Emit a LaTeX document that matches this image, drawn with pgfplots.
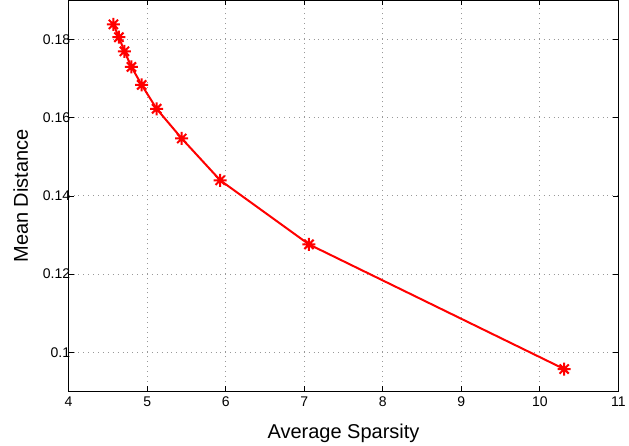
\documentclass[border=0pt]{standalone}
\usepackage{pgfplots}
\pgfplotsset{compat=1.18}
\usepackage{fontspec}
\setmainfont{Liberation Sans}
% MATLAB-style eight-armed asterisk
\pgfdeclareplotmark{mstar}{%
  \pgfpathmoveto{\pgfqpoint{-\pgfplotmarksize}{0pt}}\pgfpathlineto{\pgfqpoint{\pgfplotmarksize}{0pt}}%
  \pgfpathmoveto{\pgfqpoint{0pt}{-\pgfplotmarksize}}\pgfpathlineto{\pgfqpoint{0pt}{\pgfplotmarksize}}%
  \pgfpathmoveto{\pgfqpoint{-0.707\pgfplotmarksize}{-0.707\pgfplotmarksize}}\pgfpathlineto{\pgfqpoint{0.707\pgfplotmarksize}{0.707\pgfplotmarksize}}%
  \pgfpathmoveto{\pgfqpoint{-0.707\pgfplotmarksize}{0.707\pgfplotmarksize}}\pgfpathlineto{\pgfqpoint{0.707\pgfplotmarksize}{-0.707\pgfplotmarksize}}%
  \pgfusepathqstroke}
\begin{document}
\begin{tikzpicture}
  \begin{axis}[
    scale only axis,
    width=550pt, height=391pt,
    xmin=4, xmax=11, ymin=0.09, ymax=0.19,
    xtick={4,5,...,11},
    ytick={0.1,0.12,0.14,0.16,0.18},
    yticklabels={0.1,0.12,0.14,0.16,0.18},
    xlabel={Average Sparsity}, ylabel={Mean Distance},
    grid=major, grid style={gray!80, line width=0.9pt, dash pattern=on 0.9pt off 4pt},
    tick align=inside, tick pos=both,
    major tick length=5pt,
    axis line style={line width=1pt},
    tick style={black, line width=0.8pt},
    tick label style={font=\fontsize{14}{16}\selectfont},
    yticklabel style={xshift=5pt},
    xticklabel style={yshift=-2pt},
    label style={font=\fontsize{20}{23}\selectfont},
    /pgf/number format/assume math mode=true,
    xlabel style={yshift=-10pt},
    ylabel style={yshift=8pt},
  ]
    \addplot[red, line width=2pt, mark=mstar,
      mark size=6.5pt, mark options={line width=2pt}]
      coordinates {
        (4.57, 0.1839)(4.64, 0.1806)(4.71, 0.1770)(4.80, 0.1730)
        (4.93, 0.1684)(5.12, 0.1623)(5.44, 0.1547)(5.93, 0.1440)
        (7.06, 0.1276)(10.31, 0.0957)
      };
  \end{axis}
  \path ([xshift=-10pt]current bounding box.west);
\end{tikzpicture}
\end{document}
